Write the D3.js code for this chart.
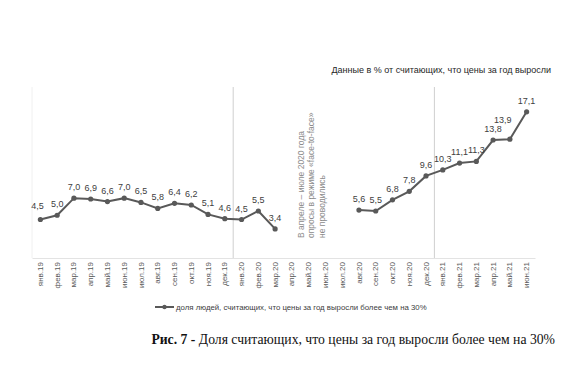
<!DOCTYPE html>
<html>
<head>
<meta charset="utf-8">
<script src="https://cdn.jsdelivr.net/npm/d3@7"></script>
<style>
    body { margin: 0; background: #fff; }
    svg { display: block; }
</style>
</head>
<body>
<div id="chart"></div>
<script>

var months = ["янв.19", "фев.19", "мар.19", "апр.19", "май.19", "июн.19", "июл.19", "авг.19", "сен.19", "окт.19", "ноя.19", "дек.19",
    "янв.20", "фев.20", "мар.20", "апр.20", "май.20", "июн.20", "июл.20", "авг.20", "сен.20", "окт.20", "ноя.20", "дек.20",
    "янв.21", "фев.21", "мар.21", "апр.21", "май.21", "июн.21"];

// null = no survey in that month
var shares = [4.5, 5.0, 7.0, 6.9, 6.6, 7.0, 6.5, 5.8, 6.4, 6.2, 5.1, 4.6,
    4.5, 5.5, 3.4, null, null, null, null, 5.6, 5.5, 6.8, 7.8, 9.6,
    10.3, 11.1, 11.3, 13.8, 13.9, 17.1];

var yearBreaks = ["янв.20", "янв.21"];

var noteLines = ["В апреле – июле 2020 года", "опросы в режиме «face-to-face»", "не проводились"];

var subtitle = "Данные в % от считающих, что цены за год выросли";
var legendText = "доля людей, считающих, что цены за год выросли более чем на 30%";

var width = 585, height = 368;

var margin = {
    top: 87,
    left: 32,
    right: 50,
    bottom: 110
};

var plotW = width - margin.left - margin.right;
var plotH = height - margin.top - margin.bottom;

var svg = d3.select("#chart").append("svg")
    .attr("width", width)
    .attr("height", height)
    .style("font-family", "'Liberation Sans', Arial, sans-serif");

var g = svg.append("g")
    .attr("transform", "translate(" + margin.left + "," + margin.top + ")");

var x = d3.scaleBand()
    .domain(months)
    .range([0, plotW]);

var y = d3.scaleLinear()
    .domain([0, 20])
    .range([plotH, 0]);

var data = months.map(function (m, i) {
    return { month: m, value: shares[i] };
});

var cx = function (d) {
    return x(d.month) + x.bandwidth() / 2;
};

// faint plot border on the left
g.append("line")
    .attr("x1", 0).attr("x2", 0)
    .attr("y1", 0).attr("y2", plotH)
    .attr("stroke", "#f0f0f0");

// year separators
g.selectAll(".sep")
    .data(yearBreaks)
    .enter().append("line")
    .attr("class", "sep")
    .attr("x1", function (d) { return x(d); })
    .attr("x2", function (d) { return x(d); })
    .attr("y1", 0)
    .attr("y2", plotH)
    .attr("stroke", "#cfcfcf")
    .attr("stroke-width", 1);

// x axis
var xAxis = g.append("g")
    .attr("transform", "translate(0," + plotH + ")")
    .call(d3.axisBottom(x).tickSize(0).tickPadding(4));

xAxis.select(".domain").attr("stroke", "#e3e3e3");

xAxis.selectAll("text")
    .attr("transform", "rotate(-90)")
    .attr("text-anchor", "end")
    .attr("dx", "-4px")
    .attr("dy", "0.32em")
    .attr("x", 0)
    .attr("y", 0)
    .style("font-size", "8px")
    .style("font-family", "'Liberation Sans', Arial, sans-serif")
    .attr("fill", "#595959");

// note about missing months
var note = g.append("text")
    .attr("transform", "translate(" + (x("май.20") + 4) + "," + (plotH - 20) + ") rotate(-90)")
    .attr("fill", "#8c8c8c")
    .style("font-size", "8.5px");

note.selectAll("tspan")
    .data(noteLines)
    .enter().append("tspan")
    .attr("x", 0)
    .attr("dy", function (d, i) { return i == 0 ? 0 : "1.2em"; })
    .text(function (d) { return d; });

// series
var line = d3.line()
    .defined(function (d) { return d.value != null; })
    .x(cx)
    .y(function (d) { return y(d.value); });

g.append("path")
    .datum(data)
    .attr("fill", "none")
    .attr("stroke", "#595959")
    .attr("stroke-width", 2)
    .attr("d", line);

var points = data.filter(function (d) { return d.value != null; });

g.selectAll(".dot")
    .data(points)
    .enter().append("circle")
    .attr("class", "dot")
    .attr("cx", cx)
    .attr("cy", function (d) { return y(d.value); })
    .attr("r", 2.6)
    .attr("fill", "#595959");

// label nudges where the labels were moved by hand
var nudge = {
    "янв.19": [-3, -3],
    "май.21": [-7, -8]
};

g.selectAll(".lbl")
    .data(points)
    .enter().append("text")
    .attr("class", "lbl")
    .attr("x", function (d) { return cx(d) + (nudge[d.month] ? nudge[d.month][0] : 0); })
    .attr("y", function (d) { return y(d.value) - 8 + (nudge[d.month] ? nudge[d.month][1] : 0); })
    .attr("text-anchor", "middle")
    .attr("fill", "#404040")
    .style("font-size", "9px")
    .text(function (d) { return d3.format(".1f")(d.value).replace(".", ","); });

// subtitle
svg.append("text")
    .attr("x", 551)
    .attr("y", 73)
    .attr("text-anchor", "end")
    .attr("fill", "#262626")
    .style("font-size", "9px")
    .text(subtitle);

// legend
var lg = svg.append("g")
    .attr("transform", "translate(155,307)");

lg.append("line")
    .attr("x1", 0).attr("x2", 19)
    .attr("stroke", "#595959")
    .attr("stroke-width", 2);

lg.append("circle")
    .attr("cx", 9.5)
    .attr("r", 2.2)
    .attr("fill", "#595959");

lg.append("text")
    .attr("x", 21)
    .attr("dy", "0.32em")
    .attr("fill", "#404040")
    .style("font-size", "7.8px")
    .text(legendText);

// figure caption
var cap = svg.append("text")
    .attr("x", 555)
    .attr("y", 344)
    .attr("text-anchor", "end")
    .attr("fill", "#111")
    .style("font-family", "'Liberation Serif', 'Times New Roman', serif")
    .style("font-size", "13.7px");

cap.append("tspan")
    .style("font-weight", "bold")
    .text("Рис. 7 - ");

cap.append("tspan")
    .text("Доля считающих, что цены за год выросли более чем на 30%");

</script>
</body>
</html>
